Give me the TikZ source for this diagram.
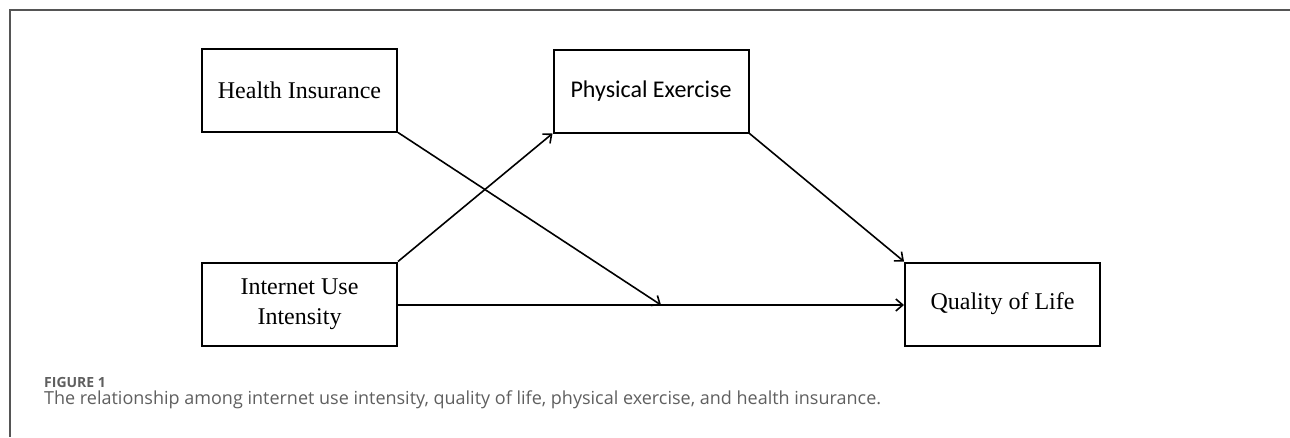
\documentclass[tikz,border=0pt]{standalone}
\usepackage{fontspec}
\setmainfont{Liberation Serif}
\newfontfamily\calfont{Carlito}
\newfontfamily\capfont{Open Sans}
\usetikzlibrary{arrows.meta, positioning}
\definecolor{framegray}{RGB}{85, 85, 85}
\definecolor{captiongray}{RGB}{95, 95, 95}
\tikzset{
  varbox/.style={draw, line width=2pt, minimum width=195pt, minimum height=83pt,
    inner sep=0pt, align=center, font=\fontsize{24}{30}\selectfont},
  path/.style={line width=1.6pt, -{Straight Barb[length=7pt, width=12pt, line width=1.6pt]}}
}

\begin{document}
\begin{tikzpicture}[x=1pt, y=-1pt]
  \useasboundingbox (0,0) rectangle (1290,437);
  % frame
  \draw[framegray, line width=1.6pt] (1290,10) -- (10,10) -- (10,437);

  % variables
  \node[varbox] (insur) at (299.5, 90) {Health Insurance};
  \node[varbox, font=\calfont\fontsize{24}{30}\selectfont] (exer) at (651, 91) {Physical Exercise};
  \node[varbox] (inet) at (299.5, 304) {Internet Use\\Intensity};
  \node[varbox] (qol) at (1002.5, 304) {Quality of Life};
  \coordinate (mod) at (661, 305);

  % paths
  \draw[path] (inet.north east) -- (exer.south west);
  \draw[path] (exer.south east) -- (qol.north west);
  \draw[path] (inet.east |- mod) -- (qol.west |- mod);
  \draw[path] (insur.south east) -- (mod);

  % caption
  \node[anchor=base west, inner sep=0pt, text=captiongray,
    font=\capfont\bfseries\fontsize{14}{16}\selectfont] (fignum) at (44, 387) {FIGURE 1};
  \node[anchor=base west, inner sep=0pt, text=captiongray,
    font=\capfont\fontsize{18}{21}\selectfont] (figcap) at (44, 404)
    {The relationship among internet use intensity, quality of life, physical exercise, and health insurance.};
\end{tikzpicture}
\end{document}
